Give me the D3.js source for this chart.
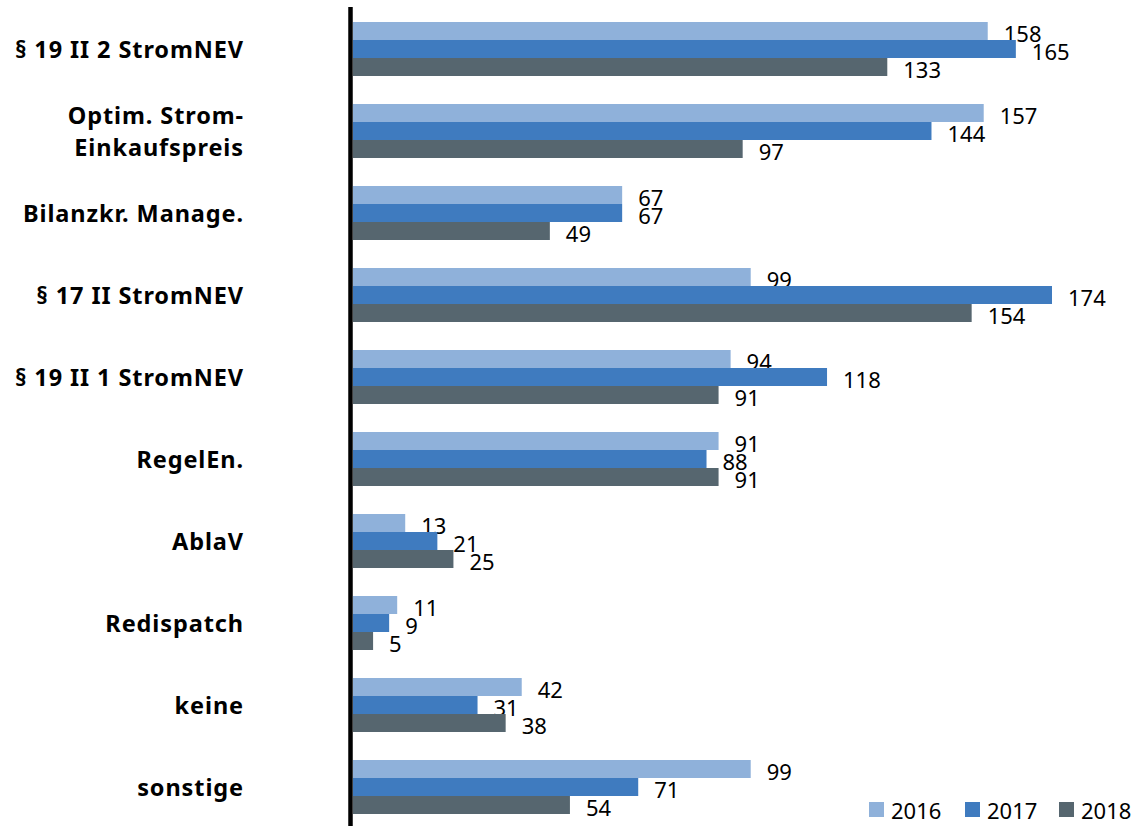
<!DOCTYPE html>
<html><head><meta charset="utf-8">
<script src="https://cdn.jsdelivr.net/npm/d3@7"></script>
<style>body{margin:0;background:#fff}</style>
</head><body>
<svg id="c" width="1142" height="826"></svg>
<script>
const categories = ["§ 19 II 2 StromNEV","Optim. Strom-\nEinkaufspreis","Bilanzkr. Manage.","§ 17 II StromNEV","§ 19 II 1 StromNEV","RegelEn.","AblaV","Redispatch","keine","sonstige"];
const years = ["2016","2017","2018"];
const v2016 = [158,157,67,99,94,91,13,11,42,99];
const v2017 = [165,144,67,174,118,88,21,9,31,71];
const v2018 = [133,97,49,154,91,91,25,5,38,54];
const colors = ["#8fb1da","#3f7bbf","#56666f"];

const series = [v2016, v2017, v2018];
const svg = d3.select("#c");
const x = d3.scaleLinear().domain([0,174]).range([353,1052]);
const y = d3.scaleBand().domain(categories).range([22,814]).paddingInner(28/82).paddingOuter(0);
const yi = d3.scaleBand().domain(years).range([0,y.bandwidth()]);

const g = svg.append("g");
categories.forEach((c,i)=>{
  years.forEach((yr,j)=>{
    const v = series[j][i];
    const y0 = y(c)+yi(yr);
    g.append("rect").attr("x",x(0)).attr("y",y0).attr("width",x(v)-x(0)).attr("height",yi.bandwidth())
      .attr("fill",colors[j]);
    g.append("text").attr("x",x(v)+16).attr("y",y0+yi.bandwidth()/2+2).attr("dominant-baseline","central")
      .attr("font-family","Noto Sans").attr("font-size",22).attr("fill","#000").text(v);
  });
  const lines = c.split("\n");
  const cy = y(c)+y.bandwidth()/2;
  lines.forEach((l,k)=>{
    g.append("text").attr("x",244).attr("y",cy+(k-(lines.length-1)/2)*32).attr("dominant-baseline","central")
      .attr("text-anchor","end").attr("font-family","Noto Sans").attr("font-weight","bold").attr("font-size",23.5)
      .attr("letter-spacing",0.9).attr("fill","#000").text(l);
  });
});
// axis line
svg.append("line").attr("x1",350.5).attr("x2",350.5).attr("y1",7).attr("y2",826).attr("stroke","#000").attr("stroke-width",4.5);

// legend
const legX = [869,965,1059];
years.forEach((yr,j)=>{
  svg.append("rect").attr("x",legX[j]).attr("y",802).attr("width",15).attr("height",15).attr("fill",colors[j]);
  svg.append("text").attr("x",legX[j]+22).attr("y",810).attr("dominant-baseline","central")
    .attr("font-family","Noto Sans").attr("font-size",22).attr("fill","#000").text(yr);
});
</script>
</body></html>
